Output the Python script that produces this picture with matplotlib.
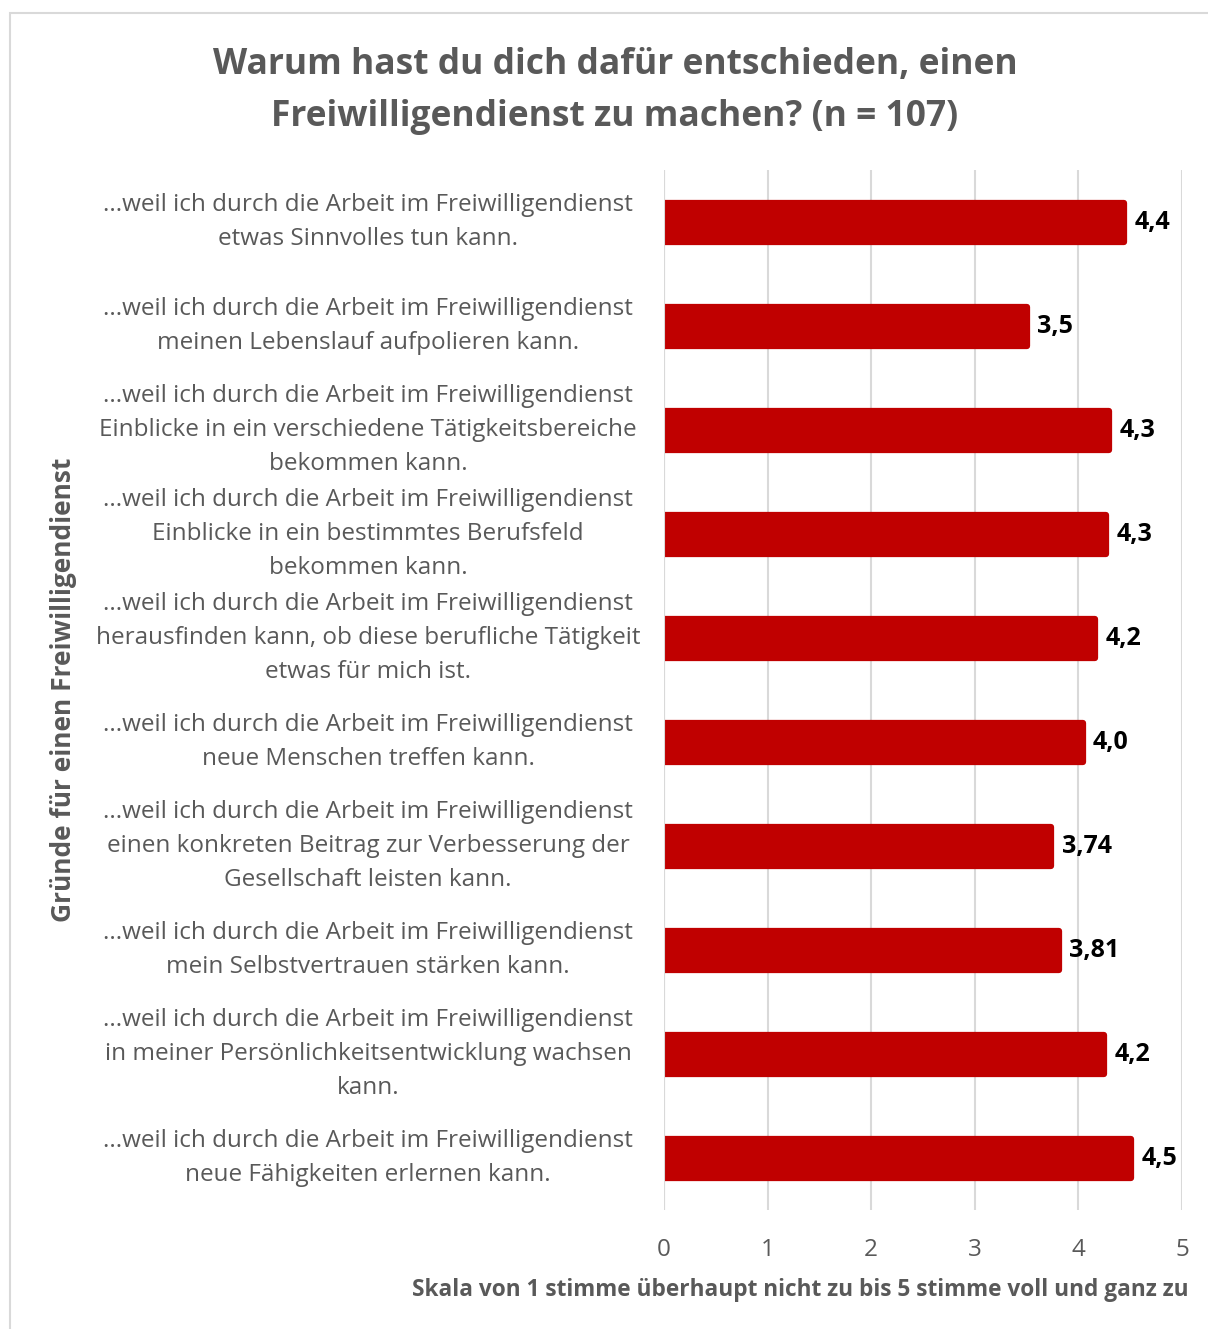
import matplotlib
matplotlib.use("Agg")
import matplotlib.pyplot as plt
from matplotlib.patches import Rectangle
from matplotlib.transforms import blended_transform_factory

# Daten
gruende = [
    "...weil ich durch die Arbeit im Freiwilligendienst\netwas Sinnvolles tun kann.",
    "...weil ich durch die Arbeit im Freiwilligendienst\nmeinen Lebenslauf aufpolieren kann.",
    "...weil ich durch die Arbeit im Freiwilligendienst\nEinblicke in ein verschiedene Tätigkeitsbereiche\nbekommen kann.",
    "...weil ich durch die Arbeit im Freiwilligendienst\nEinblicke in ein bestimmtes Berufsfeld\nbekommen kann.",
    "...weil ich durch die Arbeit im Freiwilligendienst\nherausfinden kann, ob diese berufliche Tätigkeit\netwas für mich ist.",
    "...weil ich durch die Arbeit im Freiwilligendienst\nneue Menschen treffen kann.",
    "...weil ich durch die Arbeit im Freiwilligendienst\neinen konkreten Beitrag zur Verbesserung der\nGesellschaft leisten kann.",
    "...weil ich durch die Arbeit im Freiwilligendienst\nmein Selbstvertrauen stärken kann.",
    "...weil ich durch die Arbeit im Freiwilligendienst\nin meiner Persönlichkeitsentwicklung wachsen\nkann.",
    "...weil ich durch die Arbeit im Freiwilligendienst\nneue Fähigkeiten erlernen kann.",
]
mittelwerte = [4.44, 3.50, 4.30, 4.27, 4.16, 4.04, 3.74, 3.81, 4.25, 4.51]
wert_labels = ["4,4", "3,5", "4,3", "4,3", "4,2", "4,0", "3,74", "3,81", "4,2", "4,5"]
x_ticks = [0, 1, 2, 3, 4, 5]

grau = "#595959"
rot = "#C00000"
plt.rcParams['font.family'] = ['Open Sans', 'DejaVu Sans']

fig = plt.figure(figsize=(12.08, 13.29), dpi=100)
fig.patches.append(Rectangle((10 / 1208, -0.1), 1.2, 1 - 13 / 1329 + 0.1,
                             transform=fig.transFigure, fill=False,
                             edgecolor="#D9D9D9", linewidth=1.5))

ax = fig.add_axes([664 / 1208, 1 - 1210 / 1329, 518 / 1208, 1040 / 1329])
pos = list(range(len(mittelwerte)))
# Rand in Balkenfarbe -> leicht abgerundete Ecken wie in Excel
ax.barh(pos, mittelwerte, height=0.375, color=rot, edgecolor=rot,
        linewidth=4.5, joinstyle="round", zorder=3)
ax.axvline(0, color="#D9D9D9", linewidth=1.5, zorder=4)
for p, v, t in zip(pos, mittelwerte, wert_labels):
    ax.text(v + 0.1, p, t, va="center", ha="left", fontsize=18,
            fontweight="bold", color="black")

ax.set_xlim(0, 5)
ax.set_ylim(len(mittelwerte) - 0.5, -0.5)
ax.set_xticks(x_ticks)
ax.set_xticklabels([str(t) for t in x_ticks], fontsize=17.5, color=grau)
ax.tick_params(axis="x", length=0, pad=20)
ax.set_yticks([])
ax.grid(axis="x", color="#D9D9D9", linewidth=1.5, zorder=0)
for s in ax.spines.values():
    s.set_visible(False)

tr = blended_transform_factory(fig.transFigure, ax.transData)
for p, g in zip(pos, gruende):
    fig.text(368 / 1208, p, g, transform=tr, ha="center", va="center",
             fontsize=17.5, color=grau, linespacing=1.55)

fig.text(615 / 1208, 1 - 91 / 1329,
         "Warum hast du dich dafür entschieden, einen\nFreiwilligendienst zu machen? (n = 107)",
         ha="center", va="center", fontsize=25.5, fontweight="bold", color=grau,
         linespacing=1.57)
fig.text(64 / 1208, 1 - 690 / 1329, "Gründe für einen Freiwilligendienst",
         rotation=90, ha="center", va="center", fontsize=19, fontweight="bold",
         color=grau)
fig.text(412 / 1208, 1 - 1290 / 1329,
         "Skala von 1 stimme überhaupt nicht zu bis 5 stimme voll und ganz zu",
         ha="left", va="center", fontsize=16.3, fontweight="bold", color=grau)

plt.savefig("out.png", dpi=100)
